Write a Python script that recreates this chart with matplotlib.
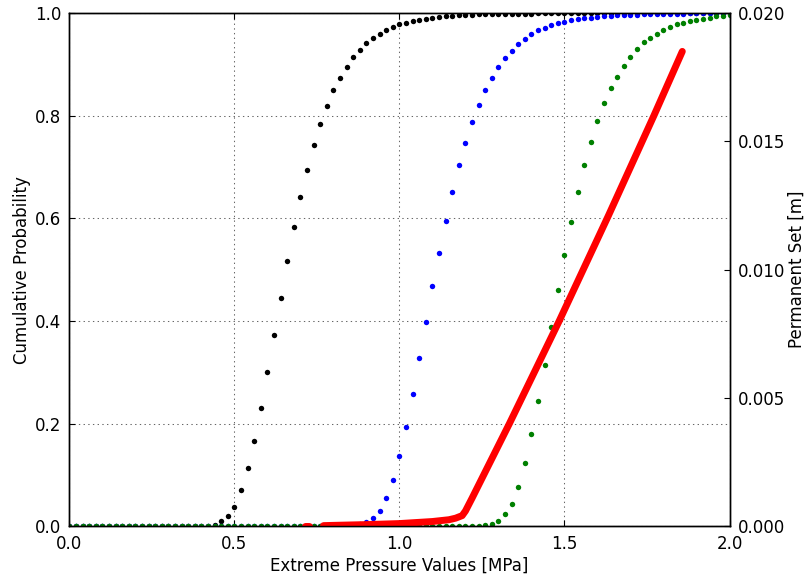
import numpy as np
import matplotlib
matplotlib.use("Agg")
import matplotlib.pyplot as plt

plt.rcParams['font.family'] = ['DejaVu Sans']
plt.rcParams['font.size'] = 12

# Pressure grid (MPa)
pressure = np.round(np.arange(0, 2.0001, 0.02), 2)

# Cumulative probabilities
prob_black = [0.0] * 22 + [
    0.003, 0.010, 0.020, 0.038, 0.070, 0.113, 0.167, 0.230, 0.300, 0.373,
    0.445, 0.517, 0.583, 0.641, 0.695, 0.743, 0.784, 0.818, 0.849, 0.874,
    0.895, 0.914, 0.928, 0.941, 0.951, 0.959, 0.966, 0.972, 0.978, 0.981,
    0.984, 0.987, 0.989, 0.991, 0.992, 0.993, 0.994, 0.995, 0.996, 0.996,
    0.997, 0.997, 0.997, 0.998, 0.998, 0.998, 0.998, 0.998, 0.998,
] + [0.999] * 10 + [1.0] * 20

prob_blue = [0.0] * 43 + [
    0.002, 0.005, 0.008, 0.016, 0.030, 0.055, 0.090, 0.138, 0.194, 0.258,
    0.327, 0.398, 0.469, 0.533, 0.595, 0.652, 0.704, 0.747, 0.787, 0.820,
    0.849, 0.874, 0.895, 0.912, 0.926, 0.939, 0.949, 0.958, 0.966, 0.970,
    0.976, 0.980, 0.982, 0.986, 0.989, 0.990, 0.991, 0.992, 0.993, 0.994,
    0.995, 0.995, 0.996, 0.996, 0.997, 0.997, 0.997, 0.998, 0.998, 0.998,
    0.998, 0.999, 0.999, 0.999, 0.999, 0.999, 0.999, 0.999,
]

prob_green = [0.0] * 63 + [
    0.002, 0.005, 0.011, 0.024, 0.044, 0.077, 0.123, 0.179, 0.244, 0.314,
    0.388, 0.460, 0.528, 0.593, 0.652, 0.704, 0.749, 0.789, 0.824, 0.853,
    0.876, 0.897, 0.915, 0.930, 0.943, 0.951, 0.959, 0.967, 0.973, 0.978,
    0.980, 0.984, 0.986, 0.989, 0.991, 0.993, 0.994, 0.995,
]

# Permanent set (m) vs pressure (MPa)
set_x_isolated = [0.714, 0.726]
set_y_isolated = [0.00002, 0.00002]
set_x = [0.77, 0.80, 0.90, 1.00, 1.05, 1.10, 1.15, 1.17, 1.19, 1.20, 1.22,
         1.333, 1.484, 1.633, 1.771, 1.857]
set_y = [0.00003, 0.00004, 0.00007, 0.00011, 0.00015, 0.00019, 0.00026,
         0.00032, 0.00042, 0.0006, 0.0011, 0.0040, 0.0080, 0.0121, 0.0160,
         0.0185]

x_ticks = [0.0, 0.5, 1.0, 1.5, 2.0]
y_ticks = [0.0, 0.2, 0.4, 0.6, 0.8, 1.0]
y2_ticks = [0.000, 0.005, 0.010, 0.015, 0.020]

fig = plt.figure(figsize=(8.11, 5.74), dpi=100)
ax = fig.add_axes([69.4 / 811, 1 - 526.4 / 574, (729.5 - 69.4) / 811, (526.4 - 12.9) / 574])

ms = 3.9
ax.plot(pressure, prob_black, 'o', color='k', ms=ms, mew=0)
ax.plot(pressure, prob_blue, 'o', color='#0000ff', ms=ms, mew=0)
ax.plot(pressure, prob_green, 'o', color='#008000', ms=ms, mew=0)

ax.set_xlim(0, 2)
ax.set_ylim(0, 1)
ax.set_xticks(x_ticks)
ax.set_yticks(y_ticks)
ax.set_xticklabels([f"{v:.1f}" for v in x_ticks])
ax.set_yticklabels([f"{v:.1f}" for v in y_ticks])
ax.grid(True, color='0.4', linestyle=(0, (1.3, 3.2)), linewidth=0.75)
ax.tick_params(direction='in', length=4, pad=6, top=True, bottom=True,
               left=True, right=False, labelsize=12)
ax.set_xlabel("Extreme Pressure Values [MPa]", fontsize=12, labelpad=3)
ax.set_ylabel("Cumulative Probability", fontsize=12, labelpad=3)

ax2 = ax.twinx()
ax2.plot(set_x_isolated, set_y_isolated, '-', color='#ff0000', lw=5.0,
         solid_capstyle='round')
ax2.plot(set_x, set_y, '-', color='#ff0000', lw=5.0,
         solid_capstyle='round', solid_joinstyle='round')
ax2.set_ylim(0, 0.02)
ax2.set_yticks(y2_ticks)
ax2.set_yticklabels([f"{v:.3f}" for v in y2_ticks])
ax2.tick_params(direction='in', length=4, pad=6, labelsize=12)
ax2.set_ylabel("Permanent Set [m]", fontsize=12, labelpad=2)

for a in (ax, ax2):
    for s in a.spines.values():
        s.set_linewidth(1.0)

fig.savefig("out.png", dpi=100)
